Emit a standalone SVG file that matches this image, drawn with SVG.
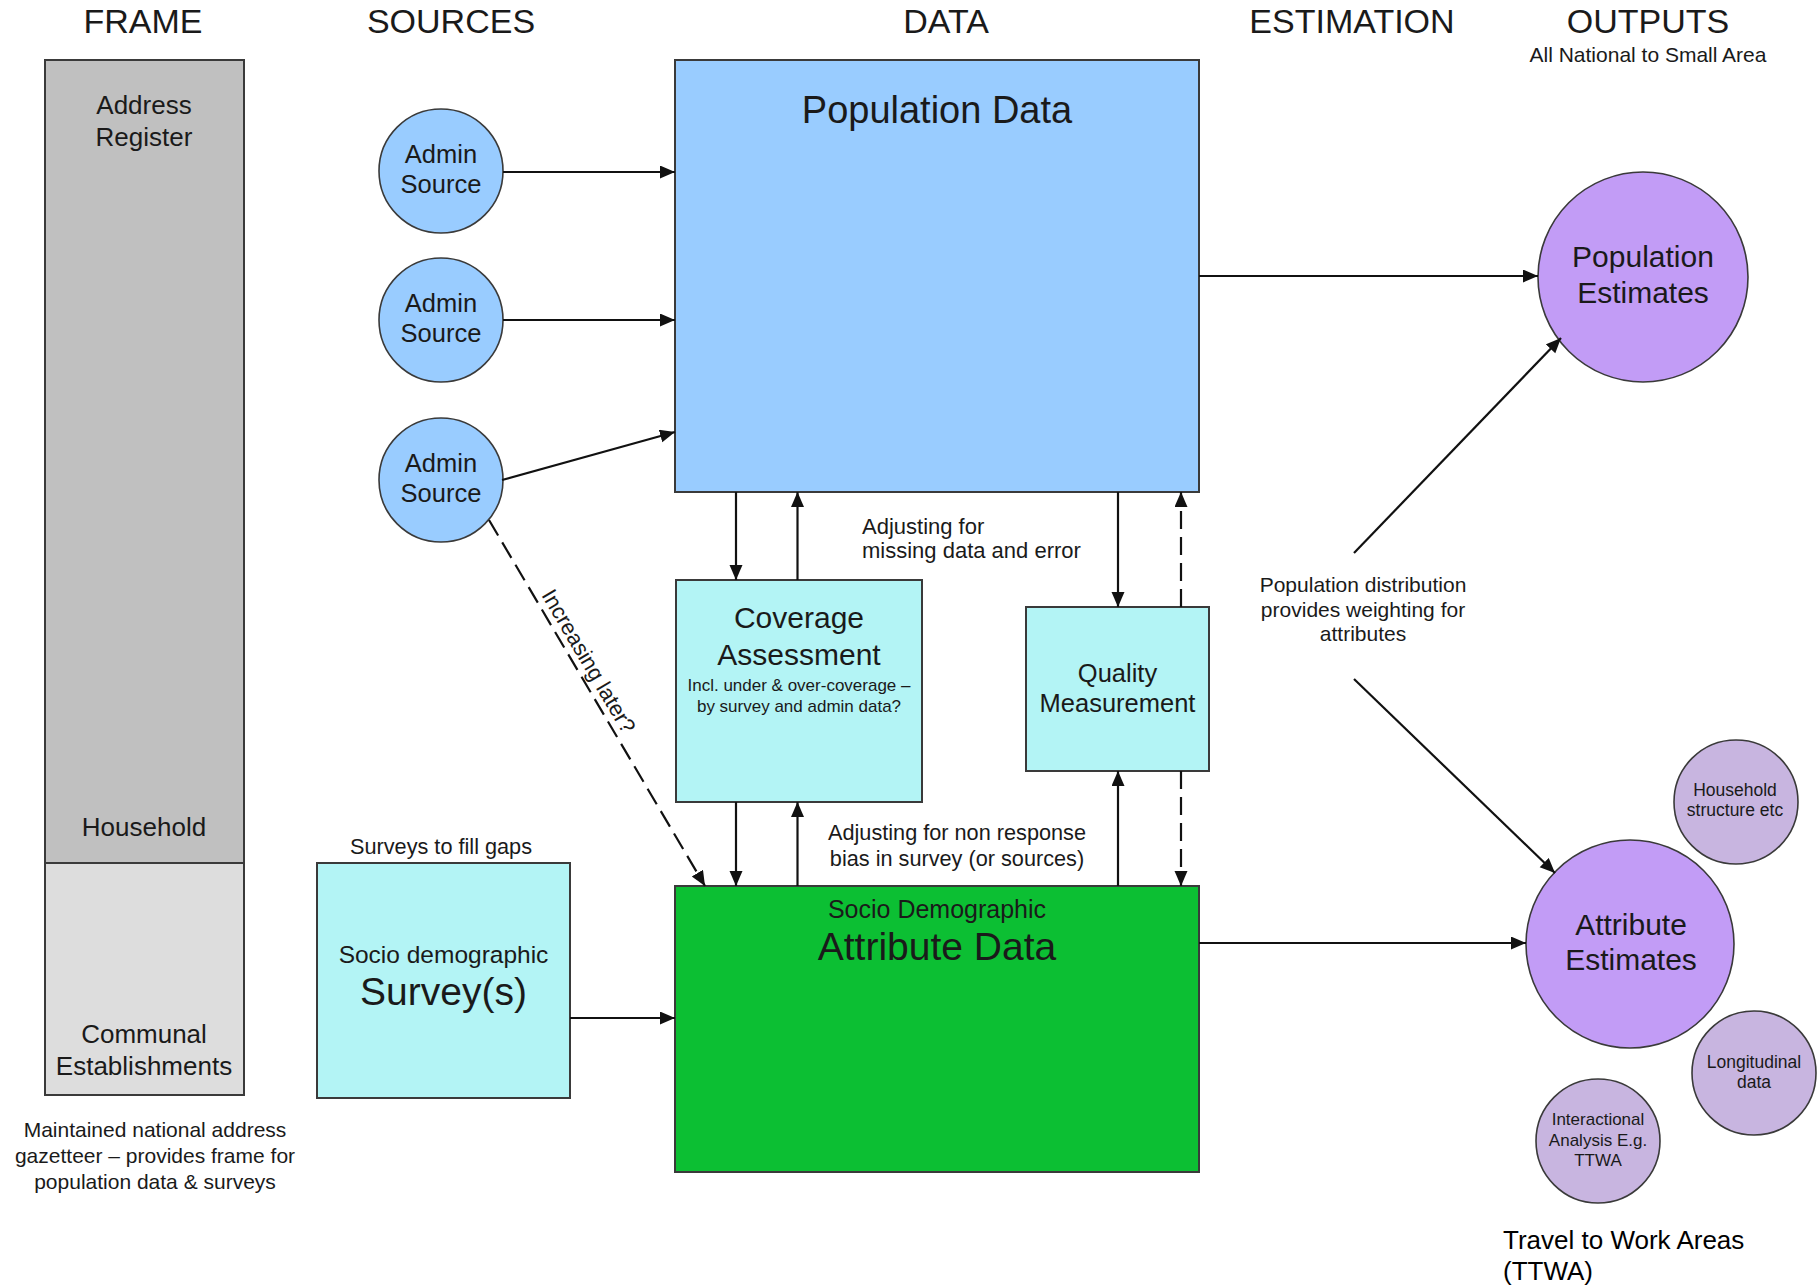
<svg xmlns="http://www.w3.org/2000/svg" width="1820" height="1286" viewBox="0 0 1820 1286">
<style>
text { font-family: "Liberation Sans", Arial, sans-serif; fill: #1a1a1a; }
.hdr { font-size: 34px; text-anchor: middle; }
.mid { text-anchor: middle; }
.box { stroke: #3a3a3a; stroke-width: 2; }
.circ { stroke: #3a3a3a; stroke-width: 1.6; }
.blue { fill: #99CCFF; }
.cyan { fill: #B3F4F5; }
.purple { fill: #C29CF6; }
.lilac { fill: #C8B5E0; }
.conn { stroke: #111; stroke-width: 2.2; fill: none; marker-end: url(#arr); }
.dash { stroke-dasharray: 18 8; }
</style>
<defs>
<marker id="arr" markerUnits="userSpaceOnUse" markerWidth="16" markerHeight="14" refX="15" refY="6.5" orient="auto">
<path d="M0,0 L15,6.5 L0,13 z" fill="#111"/>
</marker>
</defs>
<rect x="0" y="0" width="1820" height="1286" fill="#ffffff"/>

<g id="headers">
<text class="hdr" x="143" y="33">FRAME</text>
<text class="hdr" x="451" y="33">SOURCES</text>
<text class="hdr" x="946" y="33">DATA</text>
<text class="hdr" x="1352" y="33">ESTIMATION</text>
<text class="hdr" x="1648" y="33">OUTPUTS</text>
<text class="mid" x="1648" y="62" font-size="21">All National to Small Area</text>
</g>

<g id="frame">
<rect class="box" x="45" y="60" width="199" height="803" fill="#C0C0C0"/>
<rect class="box" x="45" y="863" width="199" height="232" fill="#DDDDDD"/>
<text class="mid" x="144" y="114" font-size="26">Address</text>
<text class="mid" x="144" y="146" font-size="26">Register</text>
<text class="mid" x="144" y="836" font-size="26">Household</text>
<text class="mid" x="144" y="1043" font-size="26">Communal</text>
<text class="mid" x="144" y="1075" font-size="26">Establishments</text>
</g>
<g id="frame-caption">
<text class="mid" x="155" y="1137" font-size="21">Maintained national address</text>
<text class="mid" x="155" y="1163" font-size="21">gazetteer – provides frame for</text>
<text class="mid" x="155" y="1189" font-size="21">population data &amp; surveys</text>
</g>

<g id="admin1">
<circle class="circ blue" cx="441" cy="171" r="62"/>
<text class="mid" x="441" y="163" font-size="25.5">Admin</text>
<text class="mid" x="441" y="193" font-size="25.5">Source</text>
</g>
<g id="admin2">
<circle class="circ blue" cx="441" cy="320" r="62"/>
<text class="mid" x="441" y="312" font-size="25.5">Admin</text>
<text class="mid" x="441" y="342" font-size="25.5">Source</text>
</g>
<g id="admin3">
<circle class="circ blue" cx="441" cy="480" r="62"/>
<text class="mid" x="441" y="472" font-size="25.5">Admin</text>
<text class="mid" x="441" y="502" font-size="25.5">Source</text>
</g>

<g id="survey">
<text class="mid" x="441" y="854" font-size="21.7">Surveys to fill gaps</text>
<rect class="box cyan" x="317" y="863" width="253" height="235"/>
<text class="mid" x="443.5" y="963" font-size="24.5">Socio demographic</text>
<text class="mid" x="443.5" y="1005" font-size="39">Survey(s)</text>
</g>

<g id="population-data">
<rect class="box blue" x="675" y="60" width="524" height="432"/>
<text class="mid" x="937" y="123" font-size="38">Population Data</text>
</g>

<g id="coverage">
<rect class="box cyan" x="676" y="580" width="246" height="222"/>
<text class="mid" x="799" y="628" font-size="30">Coverage</text>
<text class="mid" x="799" y="665" font-size="30">Assessment</text>
<text class="mid" x="799" y="691" font-size="17">Incl. under &amp; over-coverage –</text>
<text class="mid" x="799" y="712" font-size="17">by survey and admin data?</text>
</g>

<g id="quality">
<rect class="box cyan" x="1026" y="607" width="183" height="164"/>
<text class="mid" x="1117.5" y="682" font-size="25.5">Quality</text>
<text class="mid" x="1117.5" y="712" font-size="25.5">Measurement</text>
</g>

<g id="attribute-data">
<rect class="box" x="675" y="886" width="524" height="286" fill="#0CBF33"/>
<text class="mid" x="937" y="918" font-size="25">Socio Demographic</text>
<text class="mid" x="937" y="960" font-size="39">Attribute Data</text>
</g>

<g id="population-estimates">
<circle class="circ purple" cx="1643" cy="277" r="105"/>
<text class="mid" x="1643" y="267" font-size="30">Population</text>
<text class="mid" x="1643" y="303" font-size="30">Estimates</text>
</g>

<g id="attribute-estimates">
<circle class="circ purple" cx="1630" cy="944" r="104"/>
<text class="mid" x="1631" y="935" font-size="30">Attribute</text>
<text class="mid" x="1631" y="970" font-size="30">Estimates</text>
</g>

<g id="household-structure">
<circle class="circ lilac" cx="1736" cy="802" r="62"/>
<text class="mid" x="1735" y="796" font-size="17.5">Household</text>
<text class="mid" x="1735" y="816" font-size="17.5">structure etc</text>
</g>
<g id="longitudinal">
<circle class="circ lilac" cx="1754" cy="1073" r="62"/>
<text class="mid" x="1754" y="1068" font-size="17.5">Longitudinal</text>
<text class="mid" x="1754" y="1088" font-size="17.5">data</text>
</g>
<g id="interactional">
<circle class="circ lilac" cx="1598" cy="1141" r="62"/>
<text class="mid" x="1598" y="1125" font-size="17">Interactional</text>
<text class="mid" x="1598" y="1146" font-size="17">Analysis E.g.</text>
<text class="mid" x="1598" y="1166" font-size="17">TTWA</text>
</g>

<g id="ttwa-note">
<text x="1503" y="1249" font-size="26" style="fill:#000">Travel to Work Areas</text>
<text x="1503" y="1280" font-size="26" style="fill:#000">(TTWA)</text>
</g>

<g id="connectors">
<line class="conn" x1="503" y1="172" x2="675" y2="172"/>
<line class="conn" x1="503" y1="320" x2="675" y2="320"/>
<line class="conn" x1="502" y1="480" x2="675" y2="432"/>
<line class="conn dash" x1="489" y1="520" x2="705" y2="886"/>
<line class="conn" x1="736" y1="492" x2="736" y2="580"/>
<line class="conn" x1="797.5" y1="580" x2="797.5" y2="492"/>
<line class="conn" x1="736" y1="802" x2="736" y2="886"/>
<line class="conn" x1="797.5" y1="886" x2="797.5" y2="802"/>
<line class="conn" x1="1118" y1="492" x2="1118" y2="607"/>
<line class="conn dash" x1="1181" y1="607" x2="1181" y2="492"/>
<line class="conn" x1="1118" y1="886" x2="1118" y2="771"/>
<line class="conn dash" x1="1181" y1="771" x2="1181" y2="886"/>
<line class="conn" x1="1199" y1="276" x2="1538" y2="276"/>
<line class="conn" x1="1354" y1="553" x2="1561" y2="338"/>
<line class="conn" x1="1354" y1="679" x2="1555" y2="873"/>
<line class="conn" x1="1199" y1="943" x2="1526" y2="943"/>
<line class="conn" x1="570" y1="1018" x2="675" y2="1018"/>
</g>

<g id="connector-labels">
<text x="541" y="595" font-size="22" transform="rotate(59.5 541 595)">Increasing later?</text>
<text x="862" y="534" font-size="22">Adjusting for</text>
<text x="862" y="558" font-size="22">missing data and error</text>
<text class="mid" x="957" y="840" font-size="21.7">Adjusting for non response</text>
<text class="mid" x="957" y="866" font-size="21.7">bias in survey (or sources)</text>
<text class="mid" x="1363" y="592" font-size="21">Population distribution</text>
<text class="mid" x="1363" y="617" font-size="21">provides weighting for</text>
<text class="mid" x="1363" y="641" font-size="21">attributes</text>
</g>
</svg>
